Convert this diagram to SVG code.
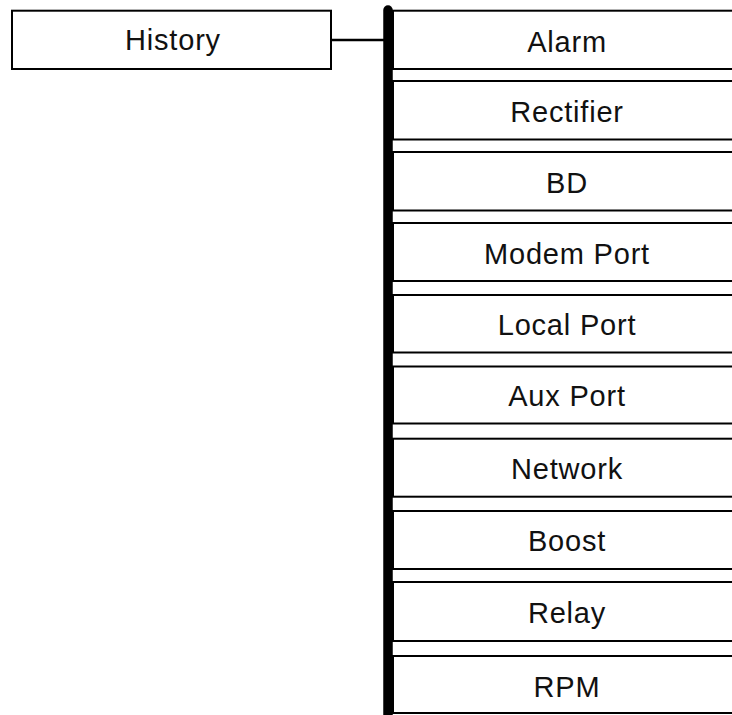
<svg xmlns="http://www.w3.org/2000/svg" width="732" height="715" viewBox="0 0 732 715">
<style>
.box{fill:#fff;stroke:#000;stroke-width:2}
.lbl{font-family:"Liberation Sans",Arial,sans-serif;font-size:29px;letter-spacing:0.8px;fill:#111;text-anchor:middle}
</style>
<rect width="732" height="715" fill="#fff"/>
<g id="history"><rect class="box" x="12" y="10.7" width="319" height="58.3"/><text class="lbl" x="173" y="50">History</text></g>
<g id="connectors">
<line x1="331" y1="40" x2="388" y2="40" stroke="#000" stroke-width="2.5"/>
<path d="M388 10 L388 716" stroke="#000" stroke-width="9.5" stroke-linecap="round"/>
</g>
<g id="alarm"><rect class="box" x="393" y="10.7" width="350" height="58.3"/><text class="lbl" x="567" y="52">Alarm</text></g>
<g id="rectifier"><rect class="box" x="393" y="81" width="350" height="58.5"/><text class="lbl" x="567" y="122">Rectifier</text></g>
<g id="bd"><rect class="box" x="393" y="152" width="350" height="58.5"/><text class="lbl" x="567" y="193">BD</text></g>
<g id="modem"><rect class="box" x="393" y="223" width="350" height="58"/><text class="lbl" x="567" y="264">Modem Port</text></g>
<g id="local"><rect class="box" x="393" y="295" width="350" height="57.5"/><text class="lbl" x="567" y="335">Local Port</text></g>
<g id="aux"><rect class="box" x="393" y="366.5" width="350" height="57"/><text class="lbl" x="567" y="406">Aux Port</text></g>
<g id="network"><rect class="box" x="393" y="438.7" width="350" height="58"/><text class="lbl" x="567" y="479">Network</text></g>
<g id="boost"><rect class="box" x="393" y="511" width="350" height="58"/><text class="lbl" x="567" y="551">Boost</text></g>
<g id="relay"><rect class="box" x="393" y="582" width="350" height="59"/><text class="lbl" x="567" y="623">Relay</text></g>
<g id="rpm"><rect class="box" x="393" y="656" width="350" height="57"/><text class="lbl" x="567" y="697">RPM</text></g>
</svg>
